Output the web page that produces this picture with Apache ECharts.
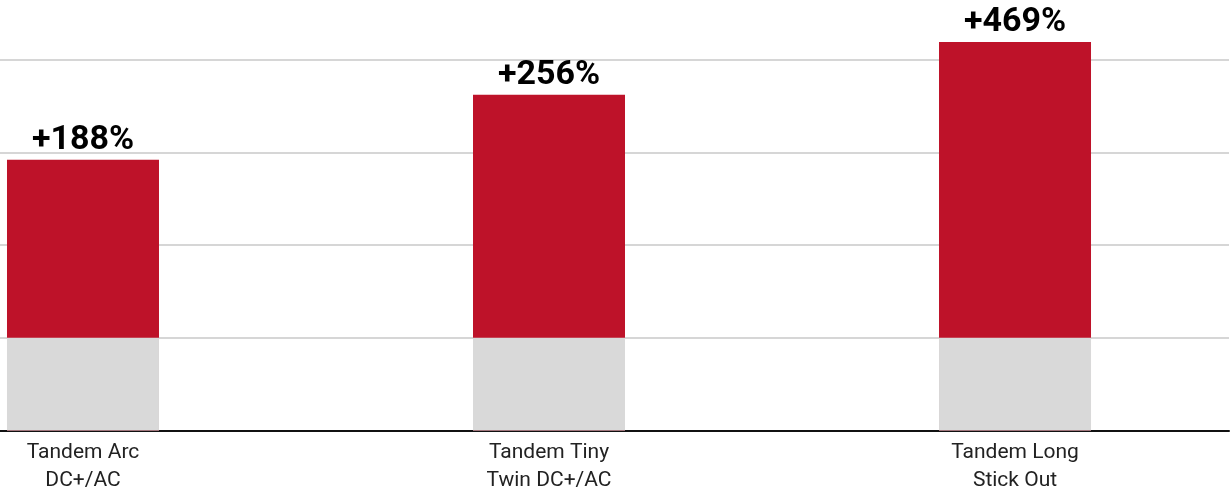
<!DOCTYPE html>
<html>
<head>
<meta charset="utf-8">
<style>
html,body{margin:0;padding:0;background:#fff;}
#chart{width:1232px;height:495px;}
</style>
<script src="https://cdn.jsdelivr.net/npm/echarts@6/dist/echarts.min.js"></script>
</head>
<body>
<div id="chart"></div>
<script>
var categories = ['Tandem Arc\nDC+/AC', 'Tandem Tiny\nTwin DC+/AC', 'Tandem Long\nStick Out'];
var baseValues = [100, 100, 100];
var increaseValues = [192, 262, 319];
var increaseLabels = ['+188%', '+256%', '+469%'];
var yTicks = [0, 100, 200, 300, 400];
// category positions on the horizontal axis (index units)
var xMin = -0.1781, xMax = 2.4592;

function pairs(vals) { return vals.map(function (v, i) { return [i, v]; }); }
var totals = baseValues.map(function (b, i) { return b + increaseValues[i]; });

var chart = echarts.init(document.getElementById('chart'), null, {renderer: 'canvas'});
chart.setOption({
  animation: false,
  grid: {left: 0, right: 3, top: 59.5, bottom: 64.5, containLabel: false},
  xAxis: {
    type: 'value',
    min: xMin, max: xMax,
    splitLine: {show: false},
    axisTick: {show: false},
    axisLine: {show: true, onZero: false, lineStyle: {color: '#111', width: 2}},
    axisLabel: {
      showMinLabel: false, showMaxLabel: false,
      color: '#222', fontFamily: 'Roboto', fontSize: 21, lineHeight: 28,
      margin: 8,
      formatter: function (v) {
        var r = Math.round(v);
        return (Math.abs(v - r) < 1e-6 && categories[r] !== undefined) ? categories[r] : '';
      }
    }
  },
  yAxis: {
    type: 'value',
    min: yTicks[0], max: yTicks[yTicks.length - 1], interval: yTicks[1] - yTicks[0],
    axisLabel: {show: false},
    axisTick: {show: false},
    axisLine: {show: false},
    splitLine: {show: true, lineStyle: {color: '#d6d6d6', width: 2}}
  },
  series: [
    {
      name: 'Increase', type: 'bar', data: pairs(totals), barWidth: 152, barGap: '-100%',
      itemStyle: {color: '#be1229'}, clip: false, z: 2,
      label: {
        show: true, position: 'top', distance: 2,
        fontFamily: 'Roboto', fontWeight: 'bold', fontSize: 34, color: '#000',
        formatter: function (p) { return increaseLabels[p.dataIndex]; }
      }
    },
    {
      name: 'Base', type: 'bar', data: pairs(baseValues), barWidth: 152, barGap: '-100%',
      itemStyle: {color: '#d9d9d9'}, clip: false, z: 3
    }
  ]
});
</script>
</body>
</html>
